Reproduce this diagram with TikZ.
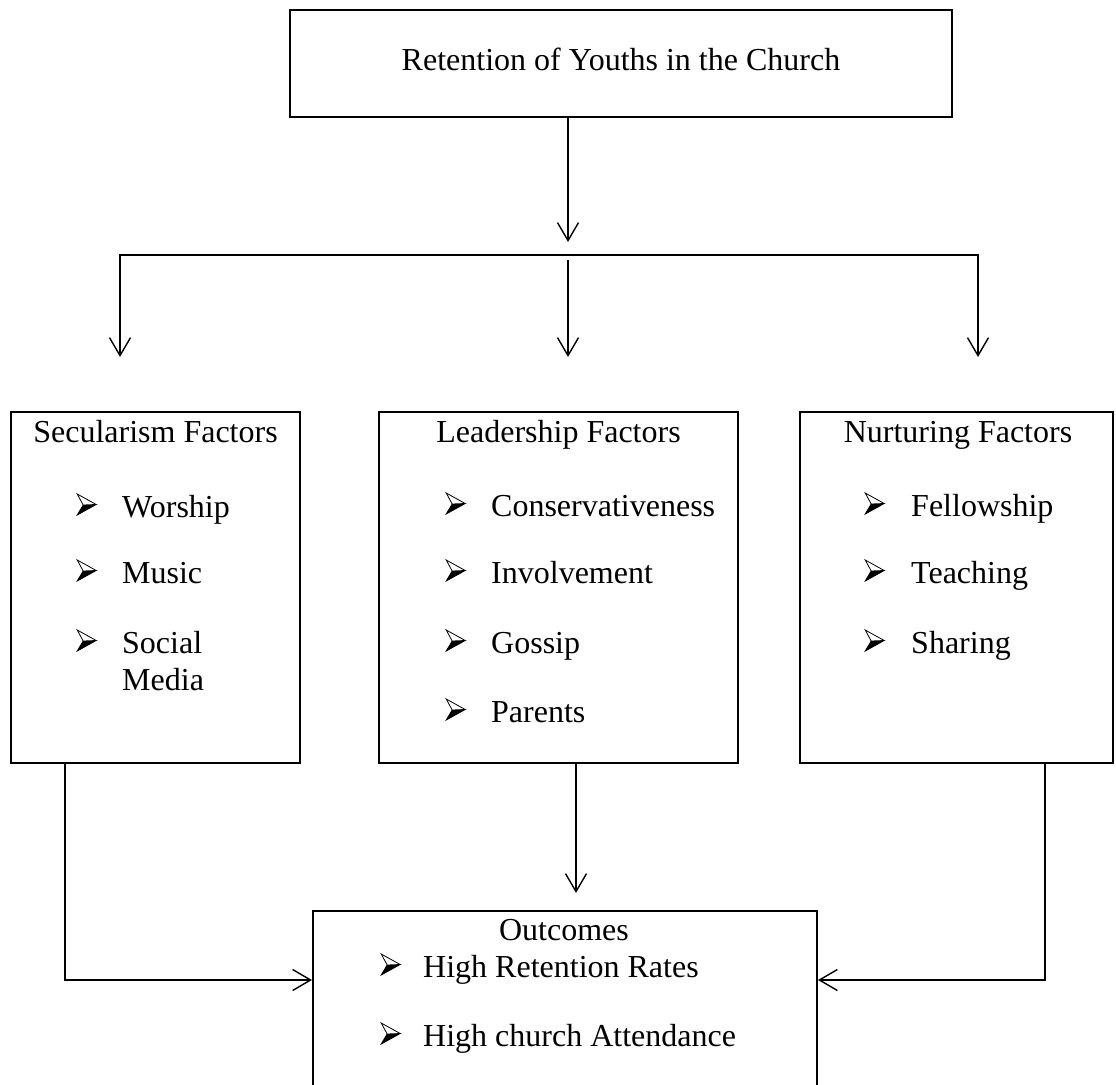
\documentclass[tikz,border=0pt]{standalone}
\usepackage{fontspec}
\setmainfont{Liberation Serif}
\usetikzlibrary{arrows.meta}
\newsavebox\bulbox
\sbox\bulbox{\begin{tikzpicture}[x=1pt,y=1pt,baseline=0pt]
  \useasboundingbox (0,0) rectangle (19,23);
  \fill[black] (6,12) -- (19,12.5) -- (0,2) -- cycle;
  \draw[line width=0.8pt, fill=white, line join=miter] (0,23) -- (19,12.5) -- (6,12) -- cycle;
  \draw[line width=0.8pt, line join=miter] (6,12) -- (0,2) -- (19,12.5);
\end{tikzpicture}}
\newcommand\bul{\usebox\bulbox}
\newcommand\itm[2]{\makebox[#1][l]{\bul}#2}
\begin{document}
\begin{tikzpicture}[x=1pt,y=-1pt,
  boxst/.style={draw, line width=2pt, inner sep=0pt, minimum width=#1},
  conn/.style={line width=1.4pt, line join=miter},
  arr/.style={conn, -{Straight Barb[length=18pt,width=21pt]}},
  lbl/.style={inner sep=0pt, font=\fontsize{32}{37}\selectfont},
  itemst/.style={lbl, anchor=base west}]
\useasboundingbox (0,0) rectangle (1116,1084);
% boxes
\node[boxst=662pt, minimum height=107pt] (top) at (621,63.5) {};
\node[boxst=289pt, minimum height=351pt] (sec) at (155.5,587.5) {};
\node[boxst=359pt, minimum height=351pt] (lead) at (558.5,587.5) {};
\node[boxst=313pt, minimum height=351pt] (nur) at (956.5,587.5) {};
\node[boxst=504pt, minimum height=182pt] (out) at (565,1002) {};
% texts
\node[lbl, anchor=base] (ttop) at (621,70) {Retention of Youths in the Church};
\node[lbl, anchor=base] (tsec) at (155.5,442) {Secularism Factors};
\node[itemst] (s1) at (77,517) {\itm{45pt}{Worship}};
\node[itemst] (s2) at (77,583) {\itm{45pt}{Music}};
\node[itemst] (s3) at (77,653) {\itm{45pt}{\parbox[t]{150pt}{\raggedright Social\\Media}}};
\node[lbl, anchor=base] (tlead) at (558.5,442) {Leadership Factors};
\node[itemst] (l1) at (446,516) {\itm{45pt}{Conservativeness}};
\node[itemst] (l2) at (446,583) {\itm{45pt}{Involvement}};
\node[itemst] (l3) at (446,653) {\itm{45pt}{Gossip}};
\node[itemst] (l4) at (446,722) {\itm{45pt}{Parents}};
\node[lbl, anchor=base] (tnur) at (958,442) {Nurturing Factors};
\node[itemst] (n1) at (865,516) {\itm{46pt}{Fellowship}};
\node[itemst] (n2) at (865,583) {\itm{46pt}{Teaching}};
\node[itemst] (n3) at (865,653) {\itm{46pt}{Sharing}};
\node[lbl, anchor=base] (tout) at (564,940) {Outcomes};
\node[itemst] (o1) at (381,977) {\itm{42pt}{High Retention Rates}};
\node[itemst] (o2) at (381,1046) {\itm{42pt}{High church Attendance}};
% connector coordinates
\coordinate (t1) at (568,242);
\coordinate (hl) at (120,255);
\coordinate (hr) at (978,255);
\coordinate (aL) at (120,357);
\coordinate (aR) at (978,357);
\coordinate (cC) at (568,260);
\coordinate (aC) at (568,357);
\coordinate (bl) at (65,980);
\coordinate (br) at (1045,980);
\coordinate (cm) at (576,893);
% connectors
\draw[arr] (top.south -| t1) -- (t1);
\draw[conn, {Straight Barb[length=18pt,width=21pt]}-{Straight Barb[length=18pt,width=21pt]}] (aL) -- (hl) -- (hr) -- (aR);
\draw[arr] (cC) -- (aC);
\draw[arr] (sec.south -| bl) -- (bl) -- (out.west |- bl);
\draw[arr] (nur.south -| br) -- (br) -- (out.east |- br);
\draw[arr] (lead.south -| cm) -- (cm);
\end{tikzpicture}
\end{document}
